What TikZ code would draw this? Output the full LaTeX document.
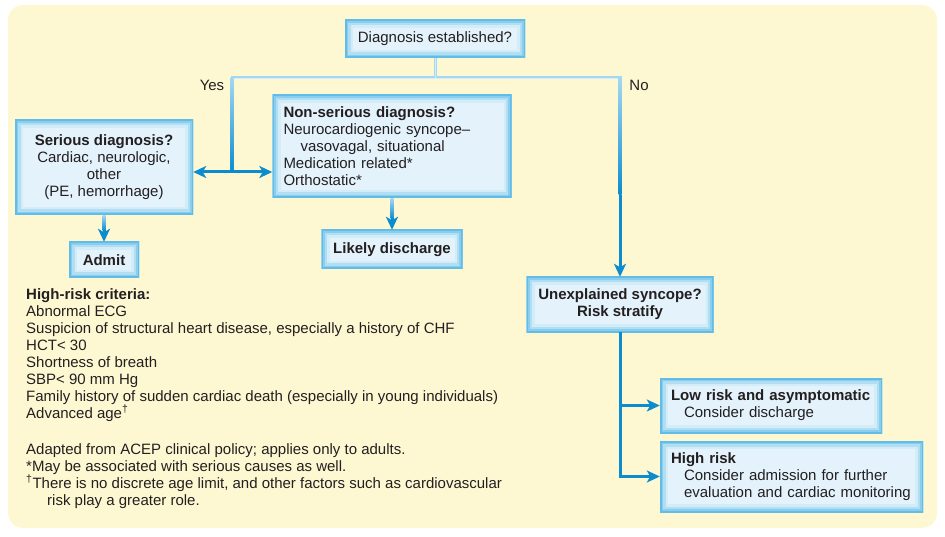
\documentclass[tikz,border=0pt]{standalone}
\usepackage{fontspec}
\setmainfont{Liberation Sans}
\usetikzlibrary{arrows.meta,calc}
\definecolor{bg}{HTML}{FEF8D2}
\definecolor{bxa}{HTML}{62BCE8}
\definecolor{bxb}{HTML}{8ACEEF}
\definecolor{bxc}{HTML}{B2DEF4}
\definecolor{bxd}{HTML}{D2ECF8}
\definecolor{bxf}{HTML}{E3F2FB}
\definecolor{lb}{HTML}{A3D8F2}
\definecolor{lbc}{HTML}{D6EEFA}
\definecolor{db}{HTML}{0B8CCF}
\definecolor{txt}{HTML}{231F20}
\tikzset{
  fnt/.style={font=\fontsize{15}{17}\selectfont, text=txt},
  box/.style={rectangle, fill=bxf, inner sep=0pt, fnt,
    path picture={
      \draw[bxd,line width=16pt] (path picture bounding box.south west) rectangle (path picture bounding box.north east);
      \draw[bxc,line width=11pt] (path picture bounding box.south west) rectangle (path picture bounding box.north east);
      \draw[bxb,line width=6.5pt] (path picture bounding box.south west) rectangle (path picture bounding box.north east);
      \draw[bxa,line width=3pt] (path picture bounding box.south west) rectangle (path picture bounding box.north east);
    }},
  cbox/.style 2 args={box, align=center, minimum width=#1, minimum height=#2},
  lbox/.style 2 args={box, align=left, text width=#1-22pt, inner xsep=11pt, minimum height=#2},
  lab/.style={fnt, inner sep=0pt},
  light/.style={lb, line width=3pt},
  dk/.style={db, line width=3pt},
  tip/.style={-{Stealth[length=13pt,width=12pt,inset=3.5pt]}},
  dtip/.style={{Stealth[length=13pt,width=12pt,inset=3.5pt]}-{Stealth[length=13pt,width=12pt,inset=3.5pt]}},
}
\begin{document}
\begin{tikzpicture}[x=1pt,y=-1pt]
\useasboundingbox (0,0) rectangle (945,537);
\fill[bg, rounded corners=15pt] (8,5) rectangle (937,528);

\node[cbox={180pt}{38pt}] (diag) at (435,39) {Diagnosis established?};
\node[cbox={178pt}{95pt}] (ser) at (104,167.5) {\textbf{Serious diagnosis?}\\Cardiac, neurologic,\\other\\(PE, hemorrhage)};
\node[lbox={239pt}{103pt}] (non) at (392,146.5) {\textbf{Non-serious diagnosis?}\\Neurocardiogenic syncope--\\\hspace*{17pt}vasovagal, situational\\Medication related*\\Orthostatic*};
\node[cbox={70pt}{36pt}] (adm) at (104,260) {\textbf{Admit}};
\node[cbox={141pt}{39pt}] (lik) at (392,249.5) {\textbf{Likely discharge}};
\node[cbox={187pt}{55pt}] (unx) at (620,304.5) {\textbf{Unexplained syncope?}\\\textbf{Risk stratify}};
\node[lbox={222pt}{55pt}] (low) at (771,405.5) {\textbf{Low risk and asymptomatic}\\\hspace*{13pt}Consider discharge};
\node[lbox={263pt}{71pt}] (hig) at (791.5,476.5) {\textbf{High risk}\\\hspace*{13pt}Consider admission for further\\\hspace*{13pt}evaluation and cardiac monitoring};

\node[lab] (yes) at (212,85) {Yes};
\node[lab] (no) at (639,85) {No};

\node[lab, anchor=north west, align=left] (crit) at (26,288) {\textbf{High-risk criteria:}\\Abnormal ECG\\Suspicion of structural heart disease, especially a history of CHF\\HCT< 30\\Shortness of breath\\SBP< 90 mm Hg\\Family history of sudden cardiac death (especially in young individuals)\\Advanced age\textsuperscript{†}\\[19pt]Adapted from ACEP clinical policy; applies only to adults.\\*May be associated with serious causes as well.\\\textsuperscript{†}There is no discrete age limit, and other factors such as cardiovascular\\\hspace*{21pt}risk play a greater role.};

\coordinate (jc) at (435,78);
\coordinate (jl) at (232,78);
\coordinate (jr) at (620,78);
\coordinate (yj) at (232,172);
\coordinate (rm) at (620,195);

% light connectors
\draw[light] (diag.south) -- (jc);
\draw[light, line cap=rect] (jl) -- (jr);
\draw[lbc, line width=0.8pt] (diag.south) -- (jc);
\draw[lbc, line width=0.8pt] (jl) -- (jr);
% gradient verticals
\shade[top color=lb, bottom color=db] ($(jl)+(-1.5,0)$) rectangle ($(yj)+(1.5,0)$);
\shade[top color=lb, bottom color=db] ($(jr)+(-1.5,0)$) rectangle ($(rm)+(1.5,0)$);
\draw[dk, dtip] (yj -| ser.east) -- (yj -| non.west);
\draw[dk, tip] (rm) -- (unx.north);
% short gradient arrows
\shade[top color=lb, bottom color=db] ($(ser.south)+(-1.5,0)$) rectangle ($(adm.north)+(1.5,-11)$);
\draw[dk, tip] ($(adm.north)+(0,-12)$) -- (adm.north);
\shade[top color=lb, bottom color=db] ($(non.south)+(-1.5,0)$) rectangle ($(lik.north)+(1.5,-11)$);
\draw[dk, tip] ($(lik.north)+(0,-12)$) -- (lik.north);
% risk branches
\draw[dk, tip] (unx.south) |- (hig.west);
\draw[dk, tip] (unx.south |- low.west) -- (low.west);
\end{tikzpicture}
\end{document}
